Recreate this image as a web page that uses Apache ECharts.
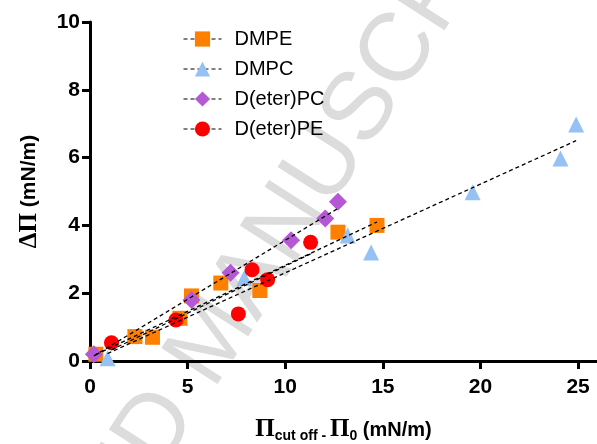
<!DOCTYPE html>
<html>
<head>
<meta charset="utf-8">
<script src="https://cdn.jsdelivr.net/npm/echarts@6/dist/echarts.min.js"></script>
<style>
    html, body { margin: 0; padding: 0; background: #fff; }
    #main { width: 597px; height: 444px; }
</style>
</head>
<body>
<div id="main"></div>
<script>
// measured points, [x, y] = [Pi cut off - Pi0, delta Pi]
var dmpe = [[0.3, 0.2], [2.3, 0.72], [3.2, 0.7], [4.6, 1.26], [5.2, 1.92], [6.7, 2.3], [8.7, 2.08], [12.7, 3.8], [14.7, 4.0]];
var dmpc = [[0.9, 0.08], [7.9, 2.45], [13.2, 3.7], [14.4, 3.2], [19.6, 4.98], [24.1, 5.97], [24.9, 6.98]];
var deterPC = [[0.2, 0.2], [5.2, 1.8], [7.2, 2.6], [10.3, 3.56], [12.05, 4.2], [12.7, 4.7]];
var deterPE = [[1.1, 0.54], [4.4, 1.21], [7.6, 1.39], [8.3, 2.69], [9.1, 2.4], [11.3, 3.5]];

// ends of the dashed regression lines
var dmpeFit = [[0.3, 0.19], [14.7, 4.1]];
var dmpcFit = [[0.9, 0.22], [24.9, 6.5]];
var deterPCFit = [[0.2, 0.15], [12.7, 4.5]];
var deterPEFit = [[1.1, 0.33], [11.3, 3.16]];

var names = ['DMPE', 'DMPC', 'D(eter)PC', 'D(eter)PE'];
var xTickValues = [0, 5, 10, 15, 20, 25];
var xAxisEnd = 25.97;   // the drawn x axis runs a bit past 25
var yTicks = [0, 10, 2];

var chart = echarts.init(document.getElementById('main'));

var pointSeries = function (name, data, symbol, size, color) {
    return {
        name: name,
        type: 'line',
        data: data,
        symbol: symbol,
        symbolSize: size,
        showSymbol: true,
        itemStyle: { color: color, opacity: 1 },
        lineStyle: { width: 0, opacity: 0 },
        z: 3
    };
};
var fitSeries = function (data) {
    return {
        type: 'line',
        data: data,
        symbol: 'none',
        silent: true,
        lineStyle: { color: '#000', width: 1.3, type: [4, 3] },
        z: 4
    };
};
var axisStyle = function () {
    return {
        type: 'value',
        splitLine: { show: false },
        axisLine: { show: true, lineStyle: { color: '#000', width: 3 } },
        axisTick: { show: true, length: 8, lineStyle: { color: '#000', width: 3 } },
        axisLabel: { color: '#000', fontSize: 21, fontWeight: 'bold', fontFamily: 'Liberation Sans', margin: 10 }
    };
};

var xAxis = axisStyle();
xAxis.min = 0;
xAxis.max = xAxisEnd;
xAxis.axisTick.customValues = xTickValues;
xAxis.axisLabel.customValues = xTickValues;
xAxis.axisLabel.margin = 16;
xAxis.name = '{p|\u03A0}{s|cut off - }{p|\u03A0}{s|0}{u| (mN/m)}';
xAxis.nameLocation = 'middle';
xAxis.nameGap = 56;
xAxis.nameTextStyle = {
    rich: {
        p: { fontFamily: 'Liberation Serif', fontWeight: 'bold', fontSize: 25, color: '#000' },
        s: { fontFamily: 'Liberation Sans', fontWeight: 'bold', fontSize: 14, color: '#000', verticalAlign: 'bottom', padding: [12, 0, 0, 0] },
        u: { fontFamily: 'Liberation Sans', fontWeight: 'bold', fontSize: 20, color: '#000' }
    }
};

var yAxis = axisStyle();
yAxis.min = yTicks[0];
yAxis.max = yTicks[1];
yAxis.interval = yTicks[2];
yAxis.name = '{p|\u0394\u03A0}{u| (mN/m)}';
yAxis.nameLocation = 'middle';
yAxis.nameGap = 48;
yAxis.nameTextStyle = {
    rich: {
        p: { fontFamily: 'Liberation Serif', fontWeight: 'bold', fontSize: 25, color: '#000' },
        u: { fontFamily: 'Liberation Sans', fontWeight: 'bold', fontSize: 21, color: '#000' }
    }
};

var option = {
    animation: false,
    backgroundColor: '#fff',
    grid: { left: 90, right: 0, top: 22, bottom: 83, outerBoundsMode: 'none' },
    graphic: [{
        type: 'text',
        z: -10,
        x: 214,
        y: 340,
        rotation: 1.0,
        style: {
            text: 'ACCEPTED MANUSCRIPT',
            fontSize: 97,
            fontFamily: 'Liberation Sans',
            fill: '#dcdcdc',
            align: 'center',
            verticalAlign: 'middle'
        }
    }],
    legend: {
        data: names,
        orient: 'vertical',
        left: 178,
        top: 24,
        itemWidth: 38,
        itemHeight: 19,
        itemGap: 10,
        textStyle: {
            color: '#000',
            fontSize: 20,
            fontFamily: 'Liberation Sans',
            padding: [0, 0, 0, 8]
        },
        lineStyle: { color: '#000', width: 1, type: [4, 3], opacity: 1 }
    },
    xAxis: xAxis,
    yAxis: yAxis,
    series: [
        fitSeries(dmpeFit),
        fitSeries(dmpcFit),
        fitSeries(deterPCFit),
        fitSeries(deterPEFit),
        pointSeries(names[0], dmpe, 'rect', 15, '#ff8000'),
        pointSeries(names[1], dmpc, 'triangle', 16, '#96c1f5'),
        pointSeries(names[2], deterPC, 'diamond', 18, '#b558d6'),
        pointSeries(names[3], deterPE, 'circle', 15, '#ff0000')
    ]
};
chart.setOption(option);
</script>
</body>
</html>
